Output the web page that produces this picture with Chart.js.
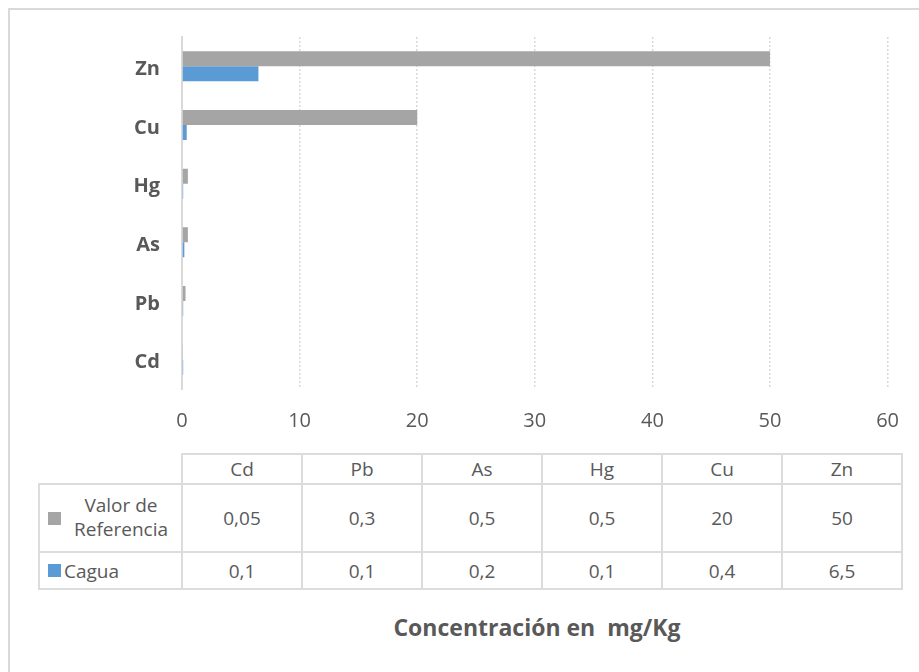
<!DOCTYPE html>
<html>

<head>
    <title>Concentración en mg/Kg</title>
    <script src="https://cdn.jsdelivr.net/npm/chart.js"></script>
    <style>
        body {
            margin: 0;
            background: #fff;
            font-family: "Open Sans", sans-serif;
            color: #595959;
        }

        .frame {
            position: absolute;
            left: 8px;
            top: 8px;
            width: 1000px;
            height: 1000px;
            border-left: 2px solid #d9d9d9;
            border-top: 2px solid #d9d9d9;
        }

        .chart-container {
            position: absolute;
            left: 0;
            top: 0;
            width: 919px;
            height: 445px;
        }

        /* data table under the chart */
        #dataTable {
            position: absolute;
            left: 38px;
            top: 453px;
            border-collapse: collapse;
            font-size: 19px;
            color: #595959;
        }

        #dataTable td {
            border: 2px solid #dcdcdc;
            text-align: center;
            padding: 0;
            width: 118px;
        }

        #dataTable td.corner {
            border-top: hidden;
            border-left: hidden;
            width: 142px;
        }

        #dataTable tr.head td {
            height: 28px;
        }

        #dataTable tr.row1 td {
            height: 66px;
        }

        #dataTable tr.row2 td {
            height: 35px;
        }

        .legendCell {
            display: flex;
            align-items: center;
            padding-left: 8px !important;
        }

        .swatch {
            display: inline-block;
            width: 13px;
            height: 13px;
            flex: none;
        }

        .title {
            position: absolute;
            top: 611px;
            left: 0;
            width: 1074px;
            text-align: center;
            font-weight: bold;
            font-size: 23px;
            white-space: pre;
            color: #595959;
        }
    </style>
</head>

<body>
    <div class="frame"></div>
    <div class="chart-container">
        <canvas id="barChart" width="919" height="445"></canvas>
    </div>
    <table id="dataTable"></table>
    <div class="title">Concentración en  mg/Kg</div>

    <script>
        // data
        const metals = ['Cd', 'Pb', 'As', 'Hg', 'Cu', 'Zn'];
        const valorReferencia = [0.05, 0.3, 0.5, 0.5, 20, 50];
        const cagua = [0.1, 0.1, 0.2, 0.1, 0.4, 6.5];
        const xTicks = [0, 10, 20, 30, 40, 50, 60];

        const grayColor = '#a5a5a5';
        const blueColor = '#5b9bd5';

        const ctx = document.getElementById('barChart').getContext('2d');

        const barChart = new Chart(ctx, {
            type: 'bar',
            data: {
                labels: metals,
                datasets: [{
                    label: 'Valor de Referencia',
                    data: valorReferencia,
                    backgroundColor: grayColor,
                    categoryPercentage: 0.51,
                    barPercentage: 1
                }, {
                    label: 'Cagua',
                    data: cagua,
                    backgroundColor: blueColor,
                    categoryPercentage: 0.51,
                    barPercentage: 1
                }]
            },
            options: {
                indexAxis: 'y',
                responsive: false,
                animation: false,
                layout: {
                    padding: { top: 37, right: 29, left: 0, bottom: 0 }
                },
                plugins: {
                    legend: { display: false },
                    tooltip: { enabled: false }
                },
                scales: {
                    x: {
                        min: xTicks[0],
                        max: xTicks[xTicks.length - 1],
                        afterBuildTicks: (scale) => {
                            scale.ticks = xTicks.map(v => ({ value: v }));
                        },
                        afterFit: (scale) => {
                            scale.height = 56;
                        },
                        grid: {
                            color: '#d9d9d9',
                            lineWidth: 1.5,
                            drawTicks: false
                        },
                        border: {
                            display: false,
                            dash: [2, 2]
                        },
                        ticks: {
                            color: '#595959',
                            padding: 20,
                            font: { family: 'Open Sans', size: 20 }
                        }
                    },
                    y: {
                        reverse: true,
                        afterFit: (scale) => {
                            scale.width = 182;
                        },
                        grid: {
                            display: false,
                            drawTicks: false
                        },
                        border: {
                            display: true,
                            color: '#d9d9d9',
                            width: 2
                        },
                        ticks: {
                            color: '#595959',
                            padding: 22,
                            labelOffset: 3,
                            font: { family: 'Open Sans', size: 20, weight: 'bold' }
                        }
                    }
                }
            }
        });

        // build the data table from the same arrays
        function fmt(v) {
            return String(v).replace('.', ',');
        }

        const table = document.getElementById('dataTable');
        let html = '<tr class="head"><td class="corner"></td>';
        metals.forEach(m => { html += '<td>' + m + '</td>'; });
        html += '</tr>';

        html += '<tr class="row1"><td><div class="legendCell"><span class="swatch" style="background:' + grayColor +
            '"></span><span style="flex:1;text-align:center;line-height:1.25">Valor de<br>Referencia</span></div></td>';
        valorReferencia.forEach(v => { html += '<td>' + fmt(v) + '</td>'; });
        html += '</tr>';

        html += '<tr class="row2"><td><div class="legendCell"><span class="swatch" style="background:' + blueColor +
            '"></span><span style="margin-left:3px">Cagua</span></div></td>';
        cagua.forEach(v => { html += '<td>' + fmt(v) + '</td>'; });
        html += '</tr>';

        table.innerHTML = html;
    </script>
</body>

</html>
